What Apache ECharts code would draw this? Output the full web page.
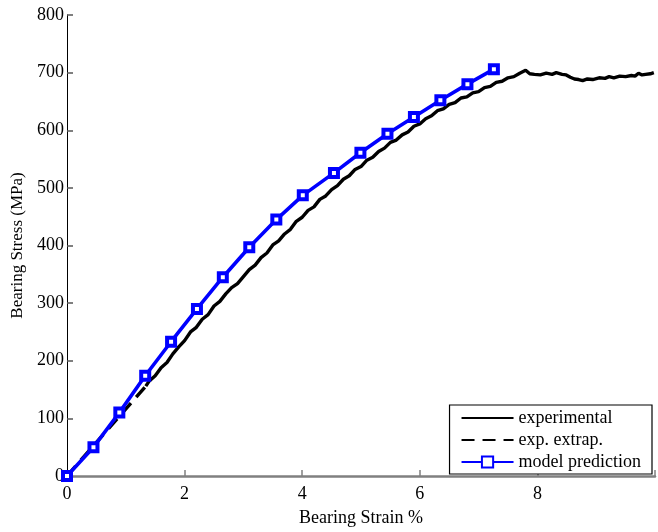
<!DOCTYPE html>
<html>
<head>
<meta charset="utf-8">
<script src="https://cdn.jsdelivr.net/npm/echarts@6/dist/echarts.min.js"></script>
<style>
  html, body { margin: 0; padding: 0; background: #fff; }
  #chart { width: 658px; height: 532px; }
</style>
</head>
<body>
<div id="chart"></div>
<script>
// Bearing strain (%) vs bearing stress (MPa)

// Measured curve
const expStrain = [1.34, 1.4, 1.5, 1.6, 1.7, 1.8, 1.9, 2.0, 2.1, 2.2, 2.3, 2.4, 2.5, 2.6, 2.7, 2.8, 2.9, 3.0,
  3.1, 3.2, 3.3, 3.4, 3.5, 3.6, 3.7, 3.8, 3.9, 4.0, 4.1, 4.2, 4.3, 4.4, 4.5, 4.6, 4.7, 4.8, 4.9, 5.0,
  5.1, 5.2, 5.3, 5.4, 5.5, 5.6, 5.7, 5.8, 5.9, 6.0, 6.1, 6.2, 6.3, 6.4, 6.5, 6.6, 6.7, 6.8, 6.9, 7.0,
  7.1, 7.2, 7.3, 7.4, 7.5, 7.6, 7.7, 7.8, 7.87, 7.95, 8.05, 8.15, 8.25, 8.32, 8.42, 8.49, 8.56, 8.63,
  8.7, 8.77, 8.85, 8.94, 9.05, 9.15, 9.22, 9.3, 9.4, 9.5, 9.6, 9.66, 9.72, 9.78, 9.84, 9.92, 9.98];
const expStress = [156, 165, 174, 188, 197, 212, 224, 235, 250, 258, 272, 280, 295, 303, 316, 327, 334, 346,
  358, 366, 379, 387, 401, 408, 420, 428, 442, 449, 461, 467, 480, 486, 497, 504, 515, 521, 532, 537,
  548, 553, 563, 569, 579, 583, 592, 597, 607, 611, 620, 625, 634, 637, 645, 648, 656, 658, 665, 667,
  674, 676, 683, 685, 691, 693, 699, 704, 698, 697, 696, 699, 697, 700, 697, 696, 692, 689,
  688, 686, 689, 688, 691, 690, 693, 691, 694, 693, 695, 694, 699, 696, 697, 698, 700];

// Extrapolated start of the measured curve
const extStrain = [0, 1.34];
const extStress = [0, 156];

// Model prediction
const modelStrain = [0, 0.45, 0.89, 1.33, 1.77, 2.21, 2.65, 3.10, 3.56, 4.01, 4.54, 4.99, 5.45, 5.90, 6.35, 6.81, 7.26];
const modelStress = [0, 50, 110, 174, 233, 290, 345, 397, 445, 487, 526, 561, 594, 623, 652, 680, 706];

const xTicks = [0, 2, 4, 6, 8];
const yTicks = [0, 100, 200, 300, 400, 500, 600, 700, 800];

const pairs = (xs, ys) => xs.map((x, i) => [x, ys[i]]);

const serif = '"Liberation Serif", "DejaVu Serif", serif';
const chart = echarts.init(document.getElementById('chart'));

chart.setOption({
  animation: false,
  backgroundColor: '#fff',
  textStyle: { fontFamily: serif },
  grid: { left: 67, top: 15, width: 592, height: 468, containLabel: false },
  legend: {
    orient: 'vertical',
    right: 6,
    bottom: 58,
    padding: [4, 11, 3, 11],
    itemGap: 4,
    itemWidth: 52,
    itemHeight: 14,
    borderColor: '#000',
    borderWidth: 1.2,
    backgroundColor: '#fff',
    textStyle: { fontFamily: serif, fontSize: 18, color: '#000' },
    data: [
      { name: 'experimental', itemStyle: { opacity: 0 } },
      { name: 'exp. extrap.', itemStyle: { opacity: 0 } },
      { name: 'model prediction' }
    ]
  },
  xAxis: {
    type: 'value',
    min: 0,
    max: 10,
    interval: 2,
    name: 'Bearing Strain %',
    nameLocation: 'middle',
    nameGap: 33,
    nameTextStyle: { fontFamily: serif, fontSize: 18, color: '#000' },
    axisLine: { lineStyle: { color: '#808080', width: 2.5 } },
    axisTick: { inside: true, length: 6, lineStyle: { color: '#808080', width: 1.5 } },
    splitLine: { show: false },
    axisLabel: {
      margin: 9,
      fontFamily: serif, fontSize: 18, color: '#000',
      formatter: v => (xTicks.indexOf(v) >= 0 ? String(v) : '')
    }
  },
  yAxis: {
    type: 'value',
    min: 0,
    max: 800,
    interval: 100,
    name: 'Bearing Stress (MPa)',
    nameLocation: 'middle',
    nameGap: 41,
    nameTextStyle: { fontFamily: serif, fontSize: 17, color: '#000' },
    axisLine: { show: true, lineStyle: { color: '#000', width: 1 } },
    axisTick: { show: true, inside: true, length: 6, lineStyle: { color: '#555', width: 1.5 } },
    splitLine: { show: false },
    axisLabel: {
      margin: 3,
      fontFamily: serif, fontSize: 18, color: '#000',
      formatter: v => (yTicks.indexOf(v) >= 0 ? String(v) : '')
    }
  },
  series: [
    {
      name: 'experimental',
      type: 'line',
      data: pairs(expStrain, expStress),
      symbol: 'none',
      z: 2,
      lineStyle: { color: '#000', width: 3.4 },
      itemStyle: { color: '#000' }
    },
    {
      name: 'exp. extrap.',
      type: 'line',
      data: pairs(extStrain, extStress),
      symbol: 'none',
      z: 2,
      lineStyle: { color: '#000', width: 3.4, type: [13, 8] },
      itemStyle: { color: '#000' }
    },
    {
      name: 'model prediction',
      type: 'line',
      data: pairs(modelStrain, modelStress),
      symbol: 'rect',
      symbolSize: 8,
      showAllSymbol: true,
      z: 3,
      lineStyle: { color: '#0000ff', width: 3.6 },
      itemStyle: { color: '#fff', borderColor: '#0000ff', borderWidth: 4 }
    }
  ]
});
</script>
</body>
</html>
